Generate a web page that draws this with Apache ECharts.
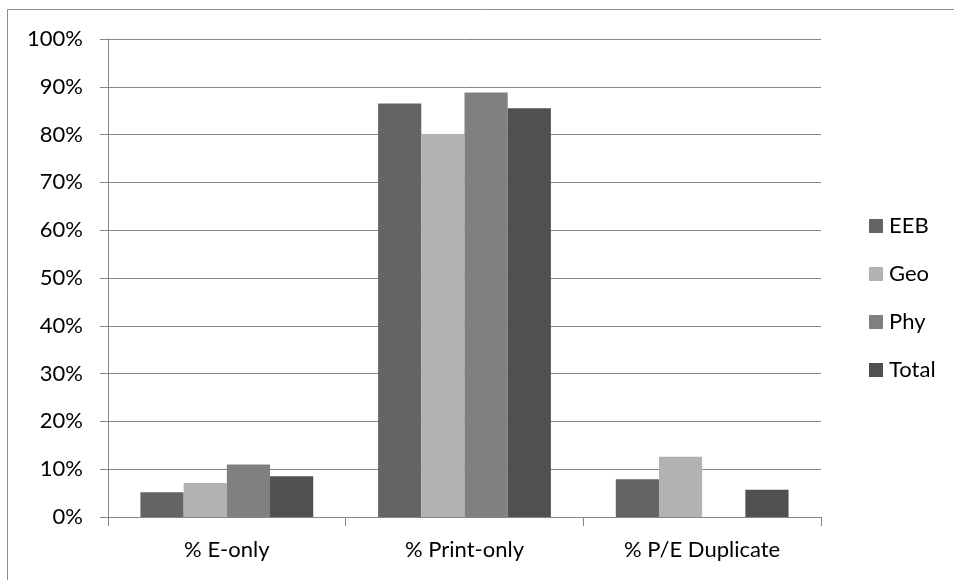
<!DOCTYPE html>
<html>
<head>
<meta charset="utf-8">
<title>Collection format share</title>
<script src="https://cdn.jsdelivr.net/npm/echarts@6/dist/echarts.min.js"></script>
<style>
  html, body { margin: 0; padding: 0; background: #fff; }
  #chart { width: 954px; height: 580px; }
</style>
</head>
<body>
<div id="chart"></div>
<script>
// Categories and per-group percentages
const categories = ['% E-only', '% Print-only', '% P/E Duplicate'];
const seriesNames = ['EEB', 'Geo', 'Phy', 'Total'];
const eeb   = [5.2, 86.5, 7.9];
const geo   = [7.1, 80.1, 12.6];
const phy   = [11.0, 88.8, 0];
const total = [8.5, 85.5, 5.7];
const yTicks = [0, 10, 20, 30, 40, 50, 60, 70, 80, 90, 100];

const values = [eeb, geo, phy, total];
const colors = ['#646464', '#b2b2b2', '#808080', '#505050'];
const font = 'Lato, "Open Sans", sans-serif';
const fontSize = 22;

const chart = echarts.init(document.getElementById('chart'));
chart.setOption({
  animation: false,
  backgroundColor: '#fff',
  graphic: [
    { type: 'line', shape: { x1: 7.5, y1: 9.5, x2: 954, y2: 9.5 }, style: { stroke: '#8c8c8c', lineWidth: 1 } },
    { type: 'line', shape: { x1: 7.5, y1: 9.5, x2: 7.5, y2: 580 }, style: { stroke: '#8c8c8c', lineWidth: 1 } }
  ],
  grid: { left: 108, right: 133, top: 39, bottom: 63, containLabel: false },
  legend: {
    orient: 'vertical',
    left: 864,
    top: 210,
    itemWidth: 14,
    itemHeight: 14,
    itemGap: 26,
    icon: 'rect',
    textStyle: { fontFamily: font, fontSize: fontSize, color: '#000', padding: [0, 0, 0, 1] },
    data: seriesNames
  },
  xAxis: {
    type: 'category',
    data: categories,
    axisLine: { lineStyle: { color: '#868686', width: 1 } },
    axisTick: { show: true, length: 9, lineStyle: { color: '#868686' } },
    axisLabel: { fontFamily: font, fontSize: fontSize, color: '#000', margin: 22 }
  },
  yAxis: {
    type: 'value',
    min: 0,
    max: 100,
    interval: 10,
    axisLine: { show: true, lineStyle: { color: '#868686', width: 1 } },
    axisTick: { show: true, length: 8, lineStyle: { color: '#868686' } },
    axisLabel: {
      fontFamily: font, fontSize: fontSize, color: '#000', margin: 25,
      formatter: v => yTicks.includes(v) ? v + '%' : ''
    },
    splitLine: { show: true, lineStyle: { color: '#868686', width: 1 } }
  },
  series: seriesNames.map((name, i) => ({
    name,
    type: 'bar',
    data: values[i],
    barGap: '0%',
    barCategoryGap: '27.3%',
    itemStyle: { color: colors[i] }
  }))
});
</script>
</body>
</html>
